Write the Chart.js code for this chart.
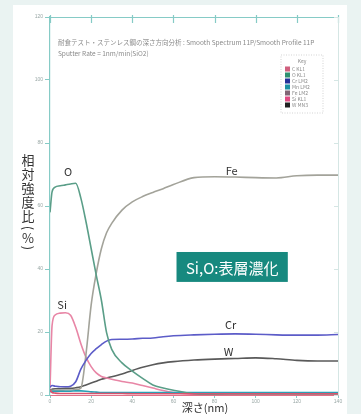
<!DOCTYPE html>
<html>
<head>
<meta charset="utf-8">
<script src="https://cdn.jsdelivr.net/npm/chart.js@4/dist/chart.umd.min.js"></script>
<style>
  html, body { margin: 0; padding: 0; background: #eaf3f2; }
  #wrap { width: 361px; height: 414px; position: relative; }
</style>
</head>
<body>
<div id="wrap"><canvas id="c" width="361" height="414"></canvas></div>
<script>
// Depth profile (sputter depth in nm) and relative intensity (%) per element
const depth = [0, 1, 2.5, 5, 7.5, 10, 12.5, 15, 17.5, 20, 22.5, 25, 27.5, 30, 35, 40, 45, 50, 55, 60, 70, 80, 90, 100, 110, 120, 130, 140];
const cKL1  = [1.5, 0.8, 0.6, 0.5, 0.5, 0.5, 0.5, 0.5, 0.5, 0.5, 0.5, 0.5, 0.5, 0.5, 0.5, 0.4, 0.4, 0.4, 0.4, 0.4, 0.4, 0.4, 0.4, 0.4, 0.4, 0.4, 0.4, 0.4];
const oKL1  = [58, 64.5, 66, 66.4, 66.7, 67, 67.2, 62.5, 55, 46.5, 38, 30, 19.8, 14.5, 10.2, 7.6, 5.3, 3.2, 2.2, 1.5, 0.4, 0.1, 0, 0, 0, 0, 0, 0];
const crLM2 = [2.5, 3, 2.8, 2.6, 2.6, 2.8, 4.2, 8.2, 11, 13.2, 14.7, 16, 17.1, 17.6, 17.7, 17.8, 18, 18.1, 18.5, 18.8, 19.1, 19.3, 19.4, 19.3, 19.1, 19, 19, 19.2];
const mnLM2 = [1.0, 1.2, 1.2, 1.2, 1.2, 1.2, 1.3, 1.3, 1.2, 1.0, 0.9, 0.8, 0.8, 0.8, 0.8, 0.8, 0.8, 0.8, 0.8, 0.8, 0.8, 0.8, 0.8, 0.8, 0.8, 0.8, 0.8, 0.8];
const feLM2 = [1.5, 1.5, 1.5, 1.5, 1.6, 1.6, 1.7, 2.2, 13, 28.5, 38.7, 46.5, 51.5, 54.5, 58.7, 61.3, 63, 64.3, 65.5, 66.8, 69, 69.3, 69.2, 69, 68.9, 69.6, 69.8, 69.8];
const siKL1 = [2, 22, 25.4, 26, 26.1, 25.3, 21.5, 16.3, 12, 9, 7, 5.9, 5.4, 5, 4.3, 3.8, 3, 2.2, 1.4, 0.8, 0.2, 0.1, 0, 0, 0, 0, 0, 0];
const wMN3  = [1.6, 1.8, 2, 2, 2.1, 2.1, 2.3, 2.6, 3.2, 3.8, 4.4, 5, 5.4, 5.8, 6.7, 7.8, 8.8, 9.6, 10.2, 10.6, 11.1, 11.4, 11.6, 11.8, 11.5, 11, 10.8, 10.8];

const xTicks = [0, 20, 40, 60, 80, 100, 120, 140];
const yTicks = [0, 20, 40, 60, 80, 100, 120];

const seriesNames = ['C KL1', 'O KL1', 'Cr LM2', 'Mn LM2', 'Fe LM2', 'Si KL1', 'W MN3'];
const seriesValues = [cKL1, oKL1, crLM2, mnLM2, feLM2, siKL1, wMN3];
const seriesColors = ['#d9546e', '#5a9e88', '#5c5cc8', '#2aa0b4', '#a3a39a', '#e886a6', '#5a5a5a'];
const legendColors = ['#d0607e', '#2f9070', '#25329a', '#1a90a2', '#816474', '#e04a82', '#202020'];

// Element names written next to their curves: [text, depth, intensity]
const curveLabels = [['O', 8.8, 70.8], ['Fe', 88.3, 71.1], ['Si', 5.9, 28.6], ['Cr', 87.8, 22.2], ['W', 86.8, 13.7]];

const titleLines = ['耐食テスト・ステンレス鋼の深さ方向分析 : Smooth Spectrum 11P/Smooth Profile 11P', 'Sputter Rate = 1nm/min(SiO2)'];
const noteText = 'Si,O:表層濃化';
const xTitle = '深さ(nm)';
const yTitle = '相対強度比(%)';

const datasets = seriesNames.map((name, i) => ({
  label: name,
  data: depth.map((d, k) => ({ x: d, y: seriesValues[i][k] })),
  borderColor: seriesColors[i],
  backgroundColor: seriesColors[i],
  borderWidth: 1.6,
  pointRadius: 0,
  cubicInterpolationMode: 'monotone',
  fill: false
}));

const AXIS = '#86cbc6';
const SANS = '"Noto Sans CJK JP", "Noto Sans", sans-serif';

const decorations = {
  id: 'decorations',
  beforeDraw(chart) {
    const ctx = chart.ctx;
    ctx.save();
    ctx.fillStyle = '#eaf3f2';
    ctx.fillRect(0, 0, chart.width, chart.height);
    ctx.fillStyle = '#ffffff';
    ctx.fillRect(13, 5, 334, chart.height - 5);
    ctx.restore();
  },
  afterDraw(chart) {
    const ctx = chart.ctx;
    const a = chart.chartArea;
    const xs = chart.scales.x, ys = chart.scales.y;
    ctx.save();

    // frame: top and right edges with inward ticks
    ctx.strokeStyle = AXIS;
    ctx.lineWidth = 1.2;
    ctx.beginPath();
    ctx.moveTo(a.left - 4, a.top + 0.5);
    ctx.lineTo(a.right, a.top + 0.5);
    xTicks.forEach(v => {
      const px = Math.round(xs.getPixelForValue(v)) + 0.5;
      ctx.moveTo(px, a.top - 2);
      ctx.lineTo(px, a.top + 6);
    });
    ctx.stroke();
    ctx.strokeStyle = '#d5e6e4';
    ctx.lineWidth = 1;
    ctx.beginPath();
    ctx.moveTo(a.right + 0.5, a.top);
    ctx.lineTo(a.right + 0.5, a.bottom);
    yTicks.forEach(v => {
      const py = Math.round(ys.getPixelForValue(v)) + 0.5;
      ctx.moveTo(a.right - 4, py);
      ctx.lineTo(a.right + 0.5, py);
    });
    ctx.stroke();

    // measurement caption
    ctx.fillStyle = '#8a8a8a';
    ctx.font = '6.5px ' + SANS;
    ctx.textBaseline = 'middle';
    ctx.textAlign = 'left';
    ctx.fillText(titleLines[0], a.left + 8, 43, a.right - a.left - 14);
    ctx.fillText(titleLines[1], a.left + 8, 54);

    // key box
    const kx = a.right - 53, ky = a.top + 41;
    ctx.strokeStyle = '#c8c8c8';
    ctx.setLineDash([1, 1.5]);
    ctx.lineWidth = 0.8;
    ctx.strokeRect(kx - 4, ky - 3, 42, 58);
    ctx.setLineDash([]);
    ctx.fillStyle = '#8a8a8a';
    ctx.font = '5px ' + SANS;
    ctx.textAlign = 'center';
    ctx.fillText('Key', kx + 17, ky + 3);
    ctx.textAlign = 'left';
    chart.data.datasets.forEach((ds, i) => {
      const yy = ky + 11 + i * 6;
      ctx.fillStyle = legendColors[i];
      ctx.fillRect(kx, yy - 2.5, 5, 5);
      ctx.fillStyle = '#8a8a8a';
      ctx.fillText(ds.label, kx + 7, yy);
    });

    // element labels
    ctx.fillStyle = '#333333';
    ctx.font = '11px ' + SANS;
    ctx.textAlign = 'center';
    curveLabels.forEach(([t, dx, dy]) => {
      ctx.fillText(t, xs.getPixelForValue(dx), ys.getPixelForValue(dy));
    });

    // highlighted note box
    const bx0 = xs.getPixelForValue(61.5), bx1 = xs.getPixelForValue(115.6);
    const by0 = ys.getPixelForValue(45.4), by1 = ys.getPixelForValue(35.9);
    ctx.fillStyle = '#17897f';
    ctx.fillRect(bx0, by0, bx1 - bx0, by1 - by0);
    ctx.fillStyle = '#ffffff';
    ctx.font = '15px ' + SANS;
    ctx.fillText(noteText, (bx0 + bx1) / 2, (by0 + by1) / 2 + 1);

    // x axis title
    ctx.fillStyle = '#333333';
    ctx.font = '11px ' + SANS;
    ctx.textAlign = 'center';
    ctx.fillText(xTitle, 205, 407.5);

    // y axis title, written top to bottom
    ctx.font = '13px ' + SANS;
    const chars = Array.from(yTitle);
    const ypos = [160, 174, 188, 202, 216, 228, 238, 248];
    chars.forEach((ch, i) => {
      const cy = ypos[i];
      if (ch === '(' || ch === ')') {
        ctx.save();
        ctx.translate(28, cy);
        ctx.rotate(Math.PI / 2);
        ctx.fillText(ch, 0, 0);
        ctx.restore();
      } else {
        ctx.fillText(ch, 28, cy);
      }
    });
    ctx.restore();
  }
};

new Chart(document.getElementById('c'), {
  type: 'line',
  data: { datasets },
  options: {
    responsive: false,
    animation: false,
    devicePixelRatio: 1,
    layout: { padding: { left: 0, top: 17, right: 23, bottom: 0 } },
    plugins: { legend: { display: false }, tooltip: { enabled: false } },
    scales: {
      x: {
        type: 'linear', min: 0, max: 140,
        afterBuildTicks: s => { s.ticks = xTicks.map(v => ({ value: v })); },
        afterFit: s => { s.height = 19; },
        ticks: { color: '#9aa8a6', font: { size: 5 }, padding: 1, maxRotation: 0 },
        grid: { drawOnChartArea: false, tickLength: 3, color: AXIS },
        border: { color: '#e07088', width: 1 }
      },
      y: {
        type: 'linear', min: 0, max: 120,
        afterBuildTicks: s => { s.ticks = yTicks.map(v => ({ value: v })); },
        afterFit: s => { s.width = 50; },
        ticks: { color: '#9aa8a6', font: { size: 5 }, padding: 2 },
        grid: { drawOnChartArea: false, tickLength: 5, color: AXIS },
        border: { color: AXIS, width: 1.2 }
      }
    }
  },
  plugins: [decorations]
});
</script>
</body>
</html>
